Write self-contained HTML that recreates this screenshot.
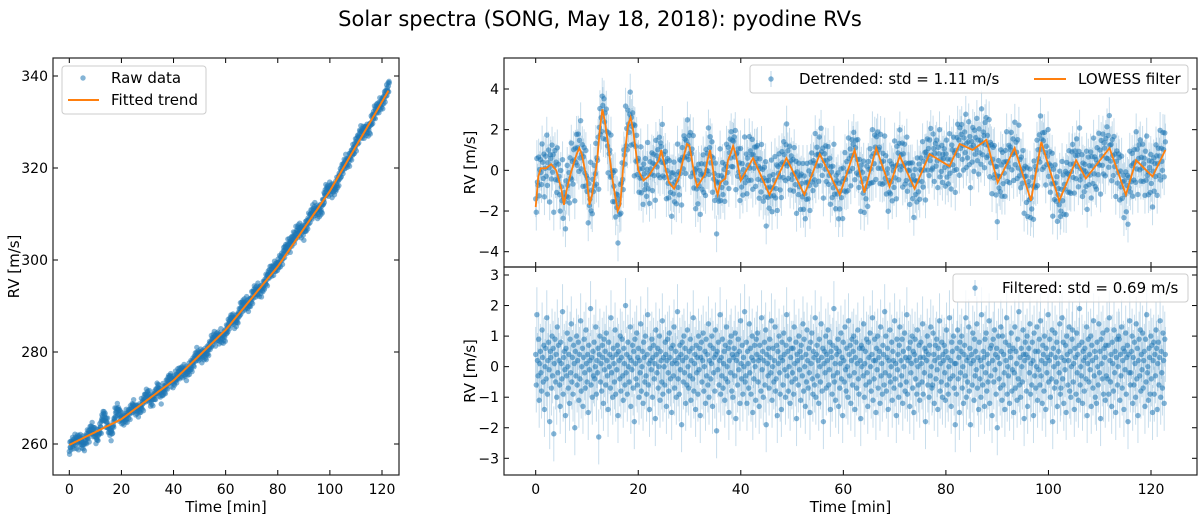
<!DOCTYPE html>
<html><head><meta charset="utf-8"><style>
body{margin:0;background:#fff;}
svg{display:block;font-family:"DejaVu Sans","Liberation Sans",sans-serif;}
</style></head><body>
<svg id="fig" width="1200" height="515" viewBox="0 0 1200 515">
<text x="600" y="26" text-anchor="middle" font-size="21">Solar spectra (SONG, May 18, 2018): pyodine RVs</text>
<g id="left"></g>
<g id="top"></g>
<g id="bot"></g>
</svg>
<script>
// ---- data ----
const filteredA = [
0.4,-0.6,1.7,0.2,-0.3,0.9,-1.1,0.1,0.5,-0.2,-0.8,1.2,0.3,-0.5,0.7,-1.4,0.0,0.6,-0.4,1.6,
-0.9,0.2,0.8,-0.1,-1.8,0.5,0.3,-0.7,1.0,-0.3,0.6,-2.2,0.1,0.9,-0.5,0.4,-1.0,1.3,-0.2,0.7,
0.2,-0.6,-1.3,0.8,0.1,-0.4,1.8,-0.9,0.3,0.5,-0.1,-1.6,0.6,-0.3,1.1,0.0,-0.7,0.4,-1.2,0.9,
-0.2,1.4,-0.5,0.3,-0.9,0.7,0.1,-2.0,0.5,-0.3,1.0,-0.6,0.2,0.8,-1.1,0.4,-0.4,1.5,-0.8,0.0,
0.6,-1.3,0.3,0.9,-0.2,-0.7,1.2,0.1,-0.5,0.4,-1.5,0.7,-0.1,0.2,1.9,-0.6,0.3,-1.0,0.5,-0.3,
0.8,-0.4,0.0,1.3,-0.9,0.2,-0.2,0.6,-2.3,0.4,1.0,-0.5,0.1,-0.8,0.7,0.3,-1.2,0.9,-0.1,0.5,
-0.6,1.1,0.2,-0.3,-1.4,0.8,0.0,0.4,-0.7,1.6,-0.2,0.3,-1.0,0.6,0.1,-0.5,1.2,-0.9,0.4,-0.1,
0.7,-1.6,0.5,0.2,-0.4,1.0,-0.8,0.3,0.9,-0.3,-1.1,0.6,0.1,-0.6,2.0,-0.2,0.4,-0.9,0.8,0.0,
-0.5,0.3,1.3,-1.3,0.2,-0.1,0.7,-0.7,0.5,-1.8,0.9,0.1,-0.4,1.1,-0.6,0.3,0.6,-1.0,0.2,-0.2,
1.4,-0.8,0.0,0.5,-1.2,0.8,0.3,-0.5,1.0,-0.3,-0.9,0.4,1.7,-0.6,0.1,-1.4,0.6,0.2,-0.1,0.9,
-1.0,0.3,0.7,-0.4,0.1,-1.7,1.2,0.4,-0.2,0.6,-0.7,0.0,1.0,-1.1,0.5,0.2,-0.5,1.5,-0.9,0.3,
0.0,-0.6,0.8,0.4,-1.3,0.2,0.9,-0.2,-0.8,1.1,0.3,-0.4,0.6,-1.5,0.1,0.7,-0.3,1.3,-0.7,0.2,
0.5,-1.0,0.1,1.8,-0.4,0.3,-0.9,0.7,-0.1,0.4,-1.9,0.8,0.2,-0.5,1.0,-0.2,0.6,-1.2,0.3,-0.6,
1.2,0.0,-0.7,0.5,-0.3,0.9,-1.1,0.2,0.6,-0.4,1.6,-0.8,0.1,0.4,-1.4,0.7,-0.2,0.3,-0.9,1.0,
-0.1,0.6,-1.6,0.3,0.8,-0.5,0.2,1.1,-0.8,0.0,0.5,-1.2,0.9,-0.3,0.4,-0.6,1.4,-1.0,0.2,0.7,
-0.4,0.1,1.0,-1.3,0.6,-0.2,0.3,-0.8,1.2,0.4,-2.1,0.5,-0.1,0.8,-0.6,0.2,1.7,-0.9,0.3,-0.3,
0.9,-0.7,0.1,0.5,-1.1,0.7,-0.4,1.3,0.0,-0.5,0.6,-1.5,0.2,0.8,-0.2,1.0,-0.8,0.4,-1.0,0.3,
0.6,-0.3,1.1,-1.7,0.2,0.4,-0.6,0.9,-0.1,0.5,-1.2,1.5,0.1,-0.4,0.7,-0.9,0.3,0.0,1.8,-0.5];
const filteredB = [
-0.3,0.8,-1.2,0.5,0.1,-0.7,1.4,-0.2,0.6,-0.9,0.3,1.0,-1.5,0.2,-0.4,0.7,0.0,-1.1,0.9,0.4,
1.1,-0.5,0.2,-1.3,0.7,0.3,-0.8,1.6,-0.1,0.5,-1.0,0.2,0.8,-0.6,1.2,-1.9,0.4,0.1,-0.3,0.6,
-0.7,0.9,0.3,-0.2,1.5,-1.1,0.0,0.6,-0.5,0.2,1.3,-0.8,-0.4,0.7,-1.6,0.5,0.1,1.0,-0.2,-0.9,
0.3,-1.4,0.8,0.2,-0.6,1.1,0.4,-0.1,-1.0,0.7,1.7,-0.3,0.5,-0.8,0.0,0.9,-1.2,0.3,0.6,-0.5,
-0.2,0.6,-0.9,1.3,0.1,-0.4,0.8,-1.7,0.4,0.2,-0.6,1.0,-0.1,0.5,-1.1,0.7,0.3,-0.3,1.4,-0.8,
0.9,0.0,-1.3,0.4,-0.5,1.2,0.2,-0.7,0.6,-0.2,-1.5,0.8,0.1,1.1,-0.4,-0.9,0.5,0.3,-0.6,1.6,
-1.0,0.4,0.7,-0.3,0.2,-1.2,0.9,0.0,-0.5,1.4,0.3,-0.8,0.6,-1.8,0.1,0.5,-0.2,1.0,-0.7,0.4,
0.2,1.2,-0.6,-0.1,0.8,-1.4,0.5,0.3,-0.9,0.7,-0.3,1.9,-0.5,0.1,-1.1,0.6,0.4,-0.2,0.9,-1.3,
0.5,-0.7,0.1,1.1,-0.4,0.3,-1.6,0.8,0.2,-0.5,1.3,-0.1,-0.8,0.6,0.0,-1.0,1.5,0.4,-0.3,0.7,
-1.2,0.2,0.9,-0.6,0.5,1.0,-0.2,-1.4,0.3,0.8,-0.7,0.1,1.2,-0.4,-0.9,0.6,0.2,-1.7,0.7,0.0,
0.6,-0.3,1.4,-1.0,0.1,0.5,-0.6,0.9,-0.2,-1.3,0.8,0.3,-0.5,1.1,0.0,-0.8,0.4,1.6,-1.1,0.2,
-0.4,0.9,0.2,-1.5,0.6,-0.1,1.0,-0.7,0.3,0.5,-1.2,1.3,-0.3,0.1,-0.9,0.7,0.4,-0.6,1.8,-0.2,
1.0,-0.8,0.3,0.6,-1.4,0.2,-0.3,1.2,-0.5,0.0,0.8,-1.1,0.5,0.2,-0.7,1.5,-0.4,0.1,-1.6,0.9,
-0.1,0.4,-1.0,0.7,1.3,-0.6,0.2,-0.3,0.9,-1.2,0.5,0.0,1.1,-0.8,0.3,-0.5,1.7,-0.9,0.2,0.6,
0.3,-1.3,0.8,-0.2,0.1,1.0,-0.7,0.5,-1.5,0.4,0.9,-0.4,0.2,-0.9,1.2,0.0,-0.6,0.7,-1.1,0.3,
0.8,0.1,-0.5,1.4,-0.9,0.3,-0.2,0.6,-1.8,0.5,0.2,1.0,-0.6,0.4,-1.0,0.7,-0.3,1.3,0.0,-0.7,
-0.6,1.1,0.4,-1.2,0.2,0.7,-0.4,0.9,-0.1,-1.4,0.6,0.3,1.5,-0.8,0.1,-0.5,0.8,-1.0,0.4,0.2,
0.7,-0.2,-1.1,0.5,1.2,-0.6,0.3,-0.9,0.0,1.6,-0.4,0.2,-1.3,0.8,0.5,-0.3,1.0,-0.7,0.1,-1.9];
const filteredC = [
0.1,-0.9,0.6,1.2,-0.4,0.3,-1.5,0.8,-0.2,0.5,1.0,-0.7,0.0,-1.2,0.4,0.7,-0.3,1.6,-1.0,0.2,
-0.5,0.3,1.3,-0.8,0.6,-1.9,0.1,0.4,-0.6,1.1,0.2,-1.1,0.9,-0.3,0.5,-0.1,1.4,-0.7,0.3,-1.4,
0.8,-0.4,0.2,-1.0,1.7,0.0,-0.6,0.5,0.3,-1.3,0.9,-0.2,1.1,-0.8,0.4,-0.5,0.1,1.5,-1.2,0.6,
-0.3,0.7,-1.6,0.2,0.9,-0.5,1.2,-0.1,0.4,-0.9,0.6,-2.0,0.3,1.0,-0.4,0.1,-0.7,1.3,0.5,-1.1,
1.0,-0.6,0.4,-0.2,-1.4,0.8,0.2,1.6,-0.9,0.0,-0.3,0.7,-1.2,0.5,0.3,1.1,-0.8,-0.1,0.6,-1.5,
-0.2,1.3,-0.7,0.5,0.1,-1.1,0.9,-0.4,1.8,-0.6,0.3,-1.0,0.6,0.0,-0.5,1.2,0.4,-1.7,0.2,0.8,
0.4,-0.8,1.0,-1.3,0.3,0.6,-0.2,1.4,-0.9,0.1,-0.6,0.8,0.2,-1.6,1.1,-0.3,0.5,-0.7,0.0,1.3,
-1.1,0.5,-0.1,0.9,-0.6,1.5,-0.3,0.2,-1.2,0.7,0.4,-0.8,1.0,0.1,-1.4,0.6,-0.2,0.3,1.7,-0.5,
0.2,0.9,-1.0,0.4,-0.4,1.2,-1.8,0.6,0.0,-0.7,1.1,0.3,-0.5,0.8,-1.3,0.1,0.5,-0.2,1.4,-0.9,
-0.7,0.3,1.6,-0.4,0.8,-1.2,0.2,-0.1,0.7,-1.5,1.0,0.4,-0.6,0.2,1.3,-0.8,0.5,-1.0,0.0,0.9,
1.2,-0.5,0.1,-1.4,0.6,0.3,-0.9,1.1,-0.2,0.4,-1.1,0.7,1.9,-0.6,0.0,-0.3,0.8,-1.2,0.5,0.2,
-0.8,0.6,0.3,-0.4,1.3,-1.6,0.1,0.9,-0.5,0.4,-0.1,1.0,-1.3,0.7,0.2,-0.7,1.5,-0.3,0.5,-1.0,
0.3,-1.2,0.8,0.0,-0.6,1.4,-0.2,0.5,-1.7,0.9,0.1,-0.4,1.1,-0.9,0.6,0.3,-1.1,0.7,-0.3,1.2,
-0.4,0.7,-0.9,1.6,0.2,-0.5,0.4,-1.3,0.8,0.1,-0.8,1.2,-0.2,0.5,-1.5,0.3,0.9,-0.6,0.0,1.0,
0.9,-1.1,0.4,-0.3,1.3,-0.7,0.2,0.6,-1.4,0.5,-0.1,1.1,-0.9,0.3,0.7,-1.8,0.4,-0.2,1.5,-0.6,
-0.2,0.5,1.0,-1.2,0.3,-0.6,0.8,0.1,-1.0,1.4,-0.4,0.6,-1.6,0.2,0.9,-0.3,1.2,-0.8,0.4,-0.1,
1.1,-0.7,0.2,0.5,-1.3,0.9,-0.5,1.7,-0.2,0.0,-1.1,0.6,0.3,-0.9,1.0,-0.4,0.7,-1.5,0.2,0.8,
-0.9,0.4,-0.3,1.2,0.6,-1.4,0.1,0.8,-0.6,0.3,1.5,-1.0,0.5,-0.2,-0.7,1.1,0.2,-1.2,0.9,0.4];
const tStart = 0, tEnd = 122.8;
const errBar = 0.9;
const lowessT = [0,0.5,1,2,3,4,5,5.5,6,7,8,8.5,9,10,10.5,11,12,12.5,13,13.5,14,15,16,16.5,17,18,18.5,19,20,21,22,23,24,24.5,25,26,27,28,29,29.5,30,31,31.5,32,33,33.5,34,34.5,35,35.5,36,37,37.5,38,38.5,39,40,42.4,45.6,48.9,52.4,55.4,59.3,62.2,64.1,66.4,69,71,73.9,76.8,80.7,82.7,85.2,87.9,90.1,93.4,96.6,98.6,102.1,105.4,107.3,111.9,115.1,117.1,120.3,122.8];
const lowessV = [-1.8,-0.3,0.1,0.1,0.3,0,-0.9,-1.7,-1.0,0,0.8,1.1,0.8,-0.5,-1.7,-1.2,0.5,2,3.0,2.4,1.5,-0.5,-2.0,-1.7,0,2.2,2.6,2,0,-0.5,-0.3,0.1,0.5,1.0,0.4,-0.6,-0.9,-0.3,0.8,1.3,1.2,-0.3,-0.8,-0.6,-0.2,0.5,1.0,0.2,-0.8,-1.2,-0.6,-0.4,0.5,0.8,1.2,0.8,-0.5,0.6,-1.2,0.6,-1.2,0.8,-1.2,1.0,-1.1,1.1,-0.8,0.7,-0.9,0.8,0.2,1.3,1.0,1.5,-0.6,1.1,-1.5,1.4,-1.5,0.5,-0.4,1.1,-1.2,0.5,-0.3,1.0];
const trendT = [0,20,40,60,80,100,123];
const trendV = [259.8,265.4,273.8,284.8,298.6,315.0,337.3];
const xTicks = [0,20,40,60,80,100,120];
const leftYTicks = [260,280,300,320,340];
const topYTicks = [-4,-2,0,2,4];
const botYTicks = [-3,-2,-1,0,1,2,3];

// ---- helpers ----
const NS = "http://www.w3.org/2000/svg";
function mk(parent, tag, attrs){const e=document.createElementNS(NS,tag);for(const k in attrs)e.setAttribute(k,attrs[k]);parent.appendChild(e);return e;}
function interp(T,V,t){if(t<=T[0])return V[0];for(let i=1;i<T.length;i++){if(t<=T[i]){const f=(t-T[i-1])/(T[i]-T[i-1]);return V[i-1]+f*(V[i]-V[i-1]);}}return V[V.length-1];}
const filtered = filteredA.concat(filteredB, filteredC);
const N = filtered.length;
const times = filtered.map((_,i)=>tStart+(tEnd-tStart)*i/(N-1));
const lowessAt = times.map(t=>interp(lowessT,lowessV,t));
const detrended = filtered.map((f,i)=>f+lowessAt[i]);
const raw = detrended.map((d,i)=>d+interp(trendT,trendV,times[i]));
const BLUE="#1f77b4", ORANGE="#ff7f0e";
const R=2.7, PA=0.55, EA=0.25;

function lin(d0,d1,r0,r1){return v=>r0+(v-d0)*(r1-r0)/(d1-d0);}

function axes(g, box, sx, sy, yt, opts){
  const [x0,y0,x1,y1]=box;
  xTicks.forEach(v=>{const x=sx(v);
    const t1=mk(g,'line',{x1:x,x2:x,y1:y1,y2:y1-5,stroke:'#000','stroke-width':1});
    
    mk(g,'line',{x1:x,x2:x,y1:y0,y2:y0+5,stroke:'#000','stroke-width':1});
    if(opts.xlabels){const tx=mk(g,'text',{x:x,y:y1+19,'text-anchor':'middle','font-size':14});tx.textContent=v;
      }
  });
  yt.forEach(v=>{const y=sy(v);
    mk(g,'line',{x1:x0,x2:x0+5,y1:y,y2:y,stroke:'#000','stroke-width':1});
    mk(g,'line',{x1:x1,x2:x1-5,y1:y,y2:y,stroke:'#000','stroke-width':1});
    const tx=mk(g,'text',{x:x0-5,y:y+5,'text-anchor':'end','font-size':14});tx.textContent=(v<0?'\u2212'+(-v):v);
    
  });
  const fr=mk(g,'rect',{x:x0,y:y0,width:x1-x0,height:y1-y0,fill:'none',stroke:'#222','stroke-width':1.2});
  
  const yl=mk(g,'text',{x:0,y:0,'text-anchor':'middle','font-size':15,transform:`translate(${opts.ylx},${(y0+y1)/2}) rotate(-90)`});
  yl.textContent='RV [m/s]';
  if(opts.xlabels){const xl=mk(g,'text',{x:(x0+x1)/2,y:y1+37,'text-anchor':'middle','font-size':15});
    xl.textContent='Time [min]';}
}
function clip(id,box){const d=mk(document.getElementById('fig'),'clipPath',{id:id});mk(d,'rect',{x:box[0],y:box[1],width:box[2]-box[0],height:box[3]-box[1]});}
function legendBox(g,x,y,w,h){const r=mk(g,'rect',{x:x,y:y,width:w,height:h,rx:3,fill:'#fff','fill-opacity':0.8,stroke:'#ccc','stroke-width':1});
  }
function ltext(g,x,y,s){const t=mk(g,'text',{x:x,y:y,'font-size':15});t.textContent=s;}

// ---- left panel ----
(function(){
  const g=document.getElementById('left'), box=[53,58,399,475];
  const sx=lin(0,120,69.3,382), sy=lin(260,340,444,76);
  clip('cl',box);
  const pts=mk(g,'g',{'clip-path':'url(#cl)'});
  raw.forEach((v,i)=>{const c=mk(pts,'circle',{cx:sx(times[i]),cy:sy(v),r:R,fill:BLUE,'fill-opacity':PA});
    });
  let d='';for(let t=0;t<=tEnd;t+=0.5){d+=(d?'L':'M')+sx(t).toFixed(1)+','+sy(interp(trendT,trendV,t)).toFixed(1);}
  const p=mk(pts,'path',{d:d,fill:'none',stroke:ORANGE,'stroke-width':2});
  
  axes(g,box,sx,sy,leftYTicks,{xlabels:true,ylx:19});
  legendBox(g,62,66,144,48);
  mk(g,'circle',{cx:83,cy:78,r:R,fill:BLUE,'fill-opacity':PA});
  ltext(g,111,83,'Raw data');
  mk(g,'line',{x1:68,x2:99,y1:100,y2:100,stroke:ORANGE,'stroke-width':2});
  ltext(g,111,105,'Fitted trend');
})();

// ---- top right ----
(function(){
  const g=document.getElementById('top'), box=[504,58,1197,267];
  const sx=lin(0,120,535.7,1151), sy=lin(-4,4,251.7,89);
  clip('ct',box);
  const pts=mk(g,'g',{'clip-path':'url(#ct)'});
  detrended.forEach((v,i)=>{const x=sx(times[i]);
    const e=mk(pts,'line',{x1:x,x2:x,y1:sy(v-errBar),y2:sy(v+errBar),stroke:BLUE,'stroke-opacity':EA,'stroke-width':1});
    });
  detrended.forEach((v,i)=>{const c=mk(pts,'circle',{cx:sx(times[i]),cy:sy(v),r:R,fill:BLUE,'fill-opacity':PA});
    });
  let d='';lowessT.forEach((t,i)=>{d+=(i?'L':'M')+sx(t).toFixed(1)+','+sy(lowessV[i]).toFixed(1);});
  const p=mk(pts,'path',{d:d,fill:'none',stroke:ORANGE,'stroke-width':1.8});
  
  axes(g,box,sx,sy,topYTicks,{xlabels:false,ylx:475});
  legendBox(g,750,65,438,28);
  mk(g,'line',{x1:771,x2:771,y1:71,y2:87,stroke:BLUE,'stroke-opacity':0.3});
  mk(g,'circle',{cx:771,cy:79,r:R,fill:BLUE,'fill-opacity':PA});
  ltext(g,799,84,'Detrended: std = 1.11 m/s');
  mk(g,'line',{x1:1034,x2:1066,y1:79,y2:79,stroke:ORANGE,'stroke-width':2});
  ltext(g,1078,84,'LOWESS filter');
})();

// ---- bottom right ----
(function(){
  const g=document.getElementById('bot'), box=[504,267,1197,475];
  const sx=lin(0,120,535.7,1151), sy=lin(-3,3,458.3,275);
  clip('cb',box);
  const pts=mk(g,'g',{'clip-path':'url(#cb)'});
  filtered.forEach((v,i)=>{const x=sx(times[i]);
    const e=mk(pts,'line',{x1:x,x2:x,y1:sy(v-errBar),y2:sy(v+errBar),stroke:BLUE,'stroke-opacity':EA,'stroke-width':1});
    });
  filtered.forEach((v,i)=>{const c=mk(pts,'circle',{cx:sx(times[i]),cy:sy(v),r:R,fill:BLUE,'fill-opacity':PA});
    });
  axes(g,box,sx,sy,botYTicks,{xlabels:true,ylx:475});
  legendBox(g,953,274,235,28);
  mk(g,'line',{x1:975,x2:975,y1:280,y2:296,stroke:BLUE,'stroke-opacity':0.3});
  mk(g,'circle',{cx:975,cy:288,r:R,fill:BLUE,'fill-opacity':PA});
  ltext(g,1002,293,'Filtered: std = 0.69 m/s');
})();
</script>
</body></html>
